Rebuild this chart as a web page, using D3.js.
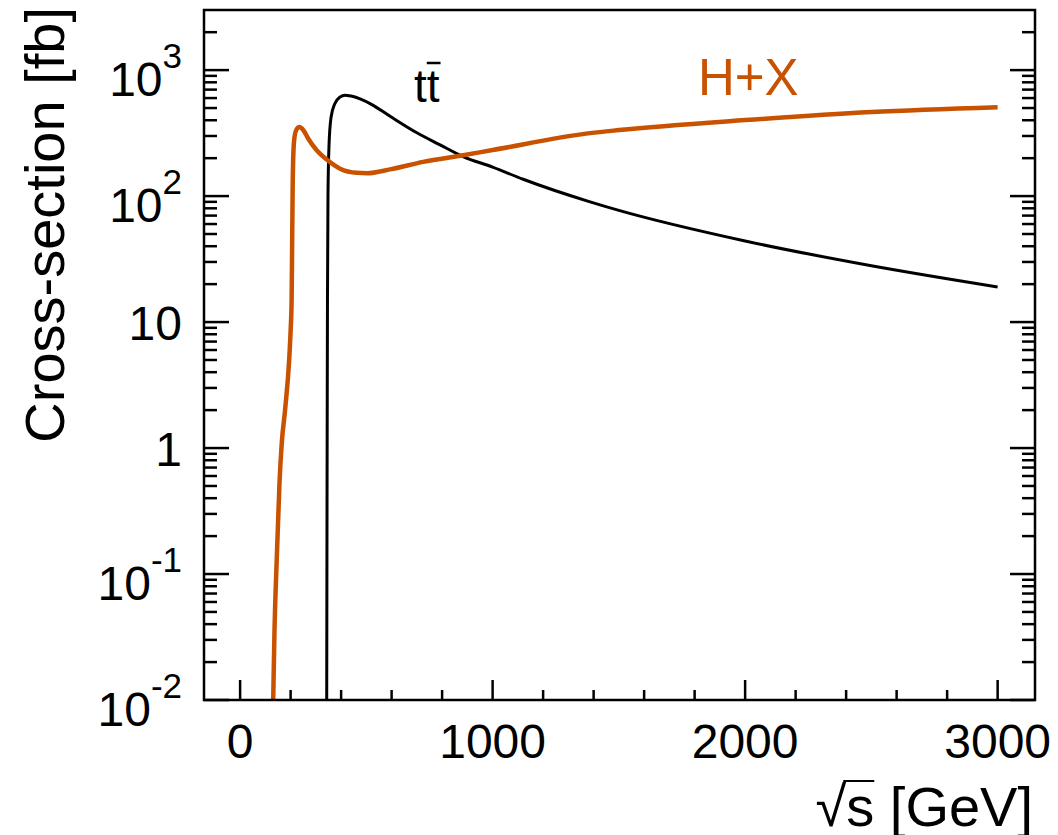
<!DOCTYPE html>
<html>
<head>
<meta charset="utf-8">
<script src="https://cdn.jsdelivr.net/npm/d3@7"></script>
<style>
  body { margin: 0; background: #fff; }
  text { font-family: "Liberation Sans", Arial, Helvetica, sans-serif; }
</style>
</head>
<body>
<div id="chart"></div>
<script>
// ttbar cross-section vs sqrt(s)
var ttE   = [343, 344, 345, 346, 348, 352, 360, 375, 395, 416, 440, 480, 520, 594, 700, 792, 883, 1000, 1121, 1386, 1500, 2000, 2500, 3000];
var ttSig = [0.01, 0.2, 2, 15, 100, 250, 420, 540, 610, 633, 622, 585, 535, 430, 318, 255, 206, 170, 136, 90, 77, 44, 28, 19];

// H+X cross-section vs sqrt(s)
var hxE   = [131, 136, 145, 156, 165, 178, 195, 200, 204, 206, 208, 211, 216, 224, 234, 250, 270, 304, 343, 396, 462, 502, 594, 725, 883, 1000, 1386, 1500, 2000, 2500, 3000];
var hxSig = [0.01, 0.034, 0.13, 0.53, 1.1, 2.0, 5.3, 8.5, 15, 40, 110, 220, 300, 340, 353, 335, 285, 230, 195, 165, 153, 152, 163, 187, 211, 232, 316, 334, 401, 465, 508];

var xMajor = [0, 1000, 2000, 3000];
var yMajor = [0.01, 0.1, 1, 10, 100, 1000];
var yLabels = [["10", "-2"], ["10", "-1"], ["1", ""], ["10", ""], ["10", "2"], ["10", "3"]];

var width = 1058,
    height = 835;
var pLeft = 204, pRight = 1035, pTop = 10, pBottom = 700;
var orange = "#c85200";

var svg = d3.select("#chart")
    .append("svg")
    .attr("width", width)
    .attr("height", height);

var x = d3.scaleLinear().domain([-143, 3148]).range([pLeft, pRight]);
var y = d3.scaleLog().domain([0.01, 3000]).range([pBottom, pTop]);

svg.append("clipPath").attr("id", "clip")
    .append("rect")
    .attr("x", pLeft).attr("y", pTop)
    .attr("width", pRight - pLeft).attr("height", pBottom - pTop);

// minor / major ticks
var xMinor = d3.range(0, 3001, 200).filter(function(d) { return d % 1000 != 0; });
var yMinor = [];
for (var e = -2; e <= 3; e++) {
    for (var m = 2; m <= 9; m++) {
        var v = m * Math.pow(10, e);
        if (v < 3000) yMinor.push(v);
    }
}

var ticks = svg.append("g").attr("stroke", "#000").attr("stroke-width", 2.5);

ticks.selectAll(".xt")
    .data(xMajor.map(function(d) { return {v: d, len: 20}; })
        .concat(xMinor.map(function(d) { return {v: d, len: 10}; })))
    .enter().append("line")
    .attr("x1", function(d) { return x(d.v); })
    .attr("x2", function(d) { return x(d.v); })
    .attr("y1", pBottom)
    .attr("y2", function(d) { return pBottom - d.len; });

var yt = yMajor.map(function(d) { return {v: d, len: 25}; })
    .concat(yMinor.map(function(d) { return {v: d, len: 13}; }));

ticks.selectAll(".yl")
    .data(yt)
    .enter().append("line")
    .attr("x1", pLeft)
    .attr("x2", function(d) { return pLeft + d.len; })
    .attr("y1", function(d) { return y(d.v); })
    .attr("y2", function(d) { return y(d.v); });

ticks.selectAll(".yr")
    .data(yt)
    .enter().append("line")
    .attr("x1", pRight)
    .attr("x2", function(d) { return pRight - d.len; })
    .attr("y1", function(d) { return y(d.v); })
    .attr("y2", function(d) { return y(d.v); });

// curves
var line = d3.line()
    .x(function(d) { return x(d[0]); })
    .y(function(d) { return y(d[1]); })
    .curve(d3.curveMonotoneX);

var plot = svg.append("g").attr("clip-path", "url(#clip)");

plot.append("path")
    .datum(d3.zip(ttE, ttSig))
    .attr("d", line)
    .attr("fill", "none")
    .attr("stroke", "#000")
    .attr("stroke-width", 3);

plot.append("path")
    .datum(d3.zip(hxE, hxSig))
    .attr("d", line)
    .attr("fill", "none")
    .attr("stroke", orange)
    .attr("stroke-width", 4.5)
    .attr("stroke-linejoin", "round");

// frame
svg.append("rect")
    .attr("x", pLeft).attr("y", pTop)
    .attr("width", pRight - pLeft).attr("height", pBottom - pTop)
    .attr("fill", "none")
    .attr("stroke", "#000")
    .attr("stroke-width", 2.5);

// x tick labels
svg.selectAll(".xlab")
    .data(xMajor)
    .enter().append("text")
    .attr("x", function(d) { return x(d); })
    .attr("y", 758)
    .attr("text-anchor", "middle")
    .attr("font-size", 48)
    .text(function(d) { return d; });

// y tick labels
var ylab = svg.selectAll(".ylab")
    .data(d3.zip(yMajor, yLabels))
    .enter().append("text")
    .attr("x", 182)
    .attr("y", function(d) { return y(d[0]) + (d[1][1] ? 26 : 18); })
    .attr("text-anchor", "end")
    .attr("font-size", 48);
ylab.append("tspan").text(function(d) { return d[1][0]; });
ylab.append("tspan")
    .attr("font-size", 35)
    .attr("dy", -28)
    .text(function(d) { return d[1][1]; });

// axis titles
svg.append("text")
    .attr("transform", "translate(64,7) rotate(-90)")
    .attr("text-anchor", "end")
    .attr("font-size", 56)
    .text("Cross-section [fb]");

var xt = svg.append("text")
    .attr("x", 1033)
    .attr("y", 826)
    .attr("text-anchor", "end")
    .attr("font-size", 56)
    .text("\u221As [GeV]");
var sBox = xt.node().getExtentOfChar(1);
svg.append("line")
    .attr("x1", sBox.x - 3).attr("x2", sBox.x + sBox.width)
    .attr("y1", 781).attr("y2", 781)
    .attr("stroke", "#000").attr("stroke-width", 2);

// curve labels
var tt = svg.append("text")
    .attr("x", 414)
    .attr("y", 102)
    .attr("font-size", 46)
    .text("tt");
var tBox = tt.node().getExtentOfChar(1);
svg.append("line")
    .attr("x1", tBox.x).attr("x2", tBox.x + tBox.width + 1)
    .attr("y1", 63).attr("y2", 63)
    .attr("stroke", "#000").attr("stroke-width", 2.5);

svg.append("text")
    .attr("x", 698)
    .attr("y", 95)
    .attr("font-size", 51)
    .attr("fill", orange)
    .text("H+X");
</script>
</body>
</html>
